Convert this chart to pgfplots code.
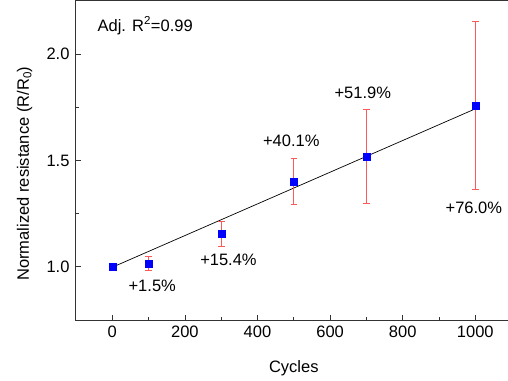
\documentclass[border=0pt]{standalone}
\usepackage{pgfplots}
\pgfplotsset{compat=1.18}
\usepackage{fontspec}
\setmainfont{Liberation Sans}
\definecolor{errred}{RGB}{250,90,90}
\begin{document}
\begin{tikzpicture}
\useasboundingbox (-76pt,-60pt) rectangle (432pt,320pt);
\begin{axis}[
  at={(0pt,0pt)}, anchor=south west,
  scale only axis,
  width=435.6pt, height=319pt,
  xmin=-100, xmax=1100,
  ymin=0.75, ymax=2.25,
  xtick={0,200,400,600,800,1000},
  ytick={1,1.5,2},
  minor x tick num=1,
  minor y tick num=1,
  tick align=inside,
  tick pos=left,
  major tick length=5pt,
  minor tick length=3pt,
  every tick/.style={black!80, line width=0.8pt},
  axis line style={black!80, line width=1pt},
  tick label style={font=\fontsize{16.5}{19}\selectfont},
  label style={font=\fontsize{16.5}{19}\selectfont},
  /pgf/number format/assume math mode=true,
  yticklabel style={xshift=-3pt, /pgf/number format/.cd, fixed, fixed zerofill, precision=1},
  xticklabel style={yshift=-2pt, /pgf/number format/.cd, fixed, 1000 sep={}},
  xlabel={Cycles},
  ylabel={Normalized resistance (R/R\textsubscript{0})},
  xlabel style={at={(axis description cs:0.5,-0.165)}, anchor=base},
  ylabel style={at={(axis description cs:-0.118,0.459)}, anchor=center},
  clip=false,
  errbar/.style={draw=errred, line width=1.1pt, mark=-, mark size=3.3pt, mark options={solid, draw=errred, line width=1.1pt}},
]
\addplot[black, line width=0.7pt, no marks] coordinates {(0,0.998) (1000,1.743)};
% error bars: (x, mean-err) to (x, mean+err)
\addplot[errbar] coordinates {(100,0.982) (100,1.050)};
\addplot[errbar] coordinates {(300,1.095) (300,1.213)};
\addplot[errbar] coordinates {(500,1.294) (500,1.508)};
\addplot[errbar] coordinates {(700,1.298) (700,1.738)};
\addplot[errbar] coordinates {(1000,1.363) (1000,2.153)};
\addplot[only marks, mark=square*, mark size=3.5pt, mark options={draw=blue, fill=blue}] coordinates {(0,1.0) (100,1.016) (300,1.154) (500,1.401) (700,1.518) (1000,1.758)};
\node[anchor=west, inner sep=0pt, font=\fontsize{16.5}{19}\selectfont] at (axis cs:-41,2.134) {Adj. R\textsuperscript{2}=0.99};
\node[font=\fontsize{16.5}{19}\selectfont, inner sep=0pt] at (axis cs:110,0.909) {+1.5\%};
\node[font=\fontsize{16.5}{19}\selectfont, inner sep=0pt] at (axis cs:320,1.033) {+15.4\%};
\node[font=\fontsize{16.5}{19}\selectfont, inner sep=0pt] at (axis cs:493,1.592) {+40.1\%};
\node[font=\fontsize{16.5}{19}\selectfont, inner sep=0pt] at (axis cs:690,1.817) {+51.9\%};
\node[font=\fontsize{16.5}{19}\selectfont, inner sep=0pt] at (axis cs:996,1.276) {+76.0\%};
\end{axis}
\end{tikzpicture}
\end{document}
